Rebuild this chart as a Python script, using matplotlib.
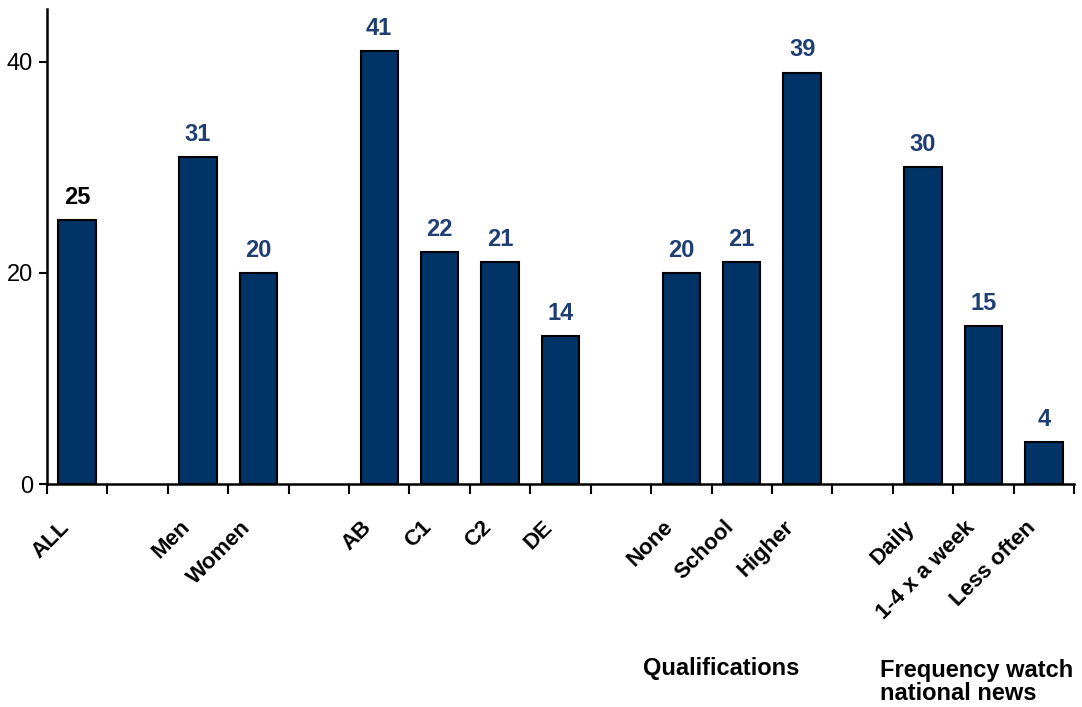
import numpy as np
import matplotlib.pyplot as plt

plt.rcParams['font.family'] = ['Liberation Sans', 'DejaVu Sans']

# categories (empty string = gap slot between groups)
categories = ['ALL', '', 'Men', 'Women', '', 'AB', 'C1', 'C2', 'DE', '',
              'None', 'School', 'Higher', '', 'Daily', '1-4 x a week', 'Less often']
values = [25, None, 31, 20, None, 41, 22, 21, 14, None,
          20, 21, 39, None, 30, 15, 4]
label_colors = ['black'] + ['#1F3F73'] * 16

group_titles = ['Qualifications', 'Frequency watch\nnational news']

BAR = '#003366'

fig = plt.figure(figsize=(10.82, 7.07), dpi=100)
ax = fig.add_axes([0.0434, 0.3154, 0.9492, 0.6716])

x = np.arange(len(categories))
for xi, v, c in zip(x, values, label_colors):
    if v is None:
        continue
    ax.bar(xi, v, width=0.62, color=BAR, edgecolor='black', linewidth=1.5, zorder=3)
    ax.annotate(str(v), (xi, v), xytext=(0, 8), textcoords='offset points',
                ha='center', va='bottom', fontsize=17, fontweight='bold', color=c)

ax.set_xlim(-0.5, len(categories) - 0.5)
ax.set_ylim(0, 45)
ax.set_yticks([0, 20, 40])
ax.tick_params(axis='y', labelsize=17, length=6, width=1.5, direction='out', pad=4)

# x ticks on slot boundaries, labels on bar centres
ax.set_xticks(np.arange(-0.5, len(categories)), minor=False)
ax.set_xticklabels([])
ax.tick_params(axis='x', length=7, width=1.5, direction='out')
for xi, lab in zip(x, categories):
    if lab:
        ax.text(xi - 0.31, -3.1, lab, rotation=45, ha='right', va='top',
                rotation_mode='anchor', fontsize=16, fontweight='bold')

ax.text(10.66, -17.5, group_titles[0], ha='center', va='center',
        fontsize=17, fontweight='bold')
ax.text(13.29, -16.6, group_titles[1], ha='left', va='top',
        fontsize=17, fontweight='bold', linespacing=1.0)

for s in ['top', 'right']:
    ax.spines[s].set_visible(False)
for s in ['left', 'bottom']:
    ax.spines[s].set_linewidth(1.8)

fig.savefig('out.png', dpi=100, facecolor='white')
